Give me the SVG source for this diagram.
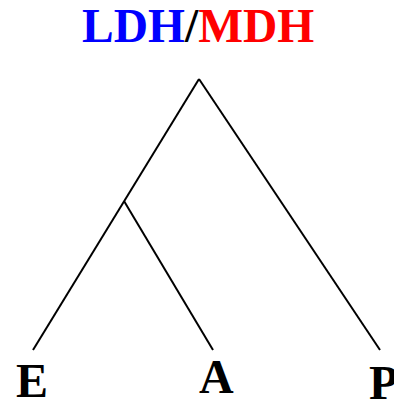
<svg xmlns="http://www.w3.org/2000/svg" width="394" height="402" viewBox="0 0 394 402">
  <style>
    .title { font-family: "Liberation Serif", "Times New Roman", serif; font-weight: bold; font-size: 47.5px; }
    .leaf { font-family: "Liberation Serif", "Times New Roman", serif; font-weight: bold; font-size: 48px; fill: #000; }
    .edge { stroke: #000; stroke-width: 2; fill: none; stroke-linecap: butt; }
  </style>
  <rect width="394" height="402" fill="#fff"/>
  <g id="title">
    <text class="title" x="82" y="42"><tspan fill="#0000ff">LDH</tspan><tspan fill="#000">/</tspan><tspan fill="#ff0000">MDH</tspan></text>
  </g>
  <g id="connectors">
    <line class="edge" x1="199" y1="79" x2="33" y2="350"/>
    <line class="edge" x1="199" y1="79" x2="380" y2="350"/>
    <line class="edge" x1="124" y1="201" x2="213" y2="350"/>
  </g>
  <g id="node-E">
    <text class="leaf" x="16" y="397">E</text>
  </g>
  <g id="node-A">
    <text class="leaf" x="199" y="393">A</text>
  </g>
  <g id="node-P">
    <text class="leaf" x="369" y="399">P</text>
  </g>
</svg>
